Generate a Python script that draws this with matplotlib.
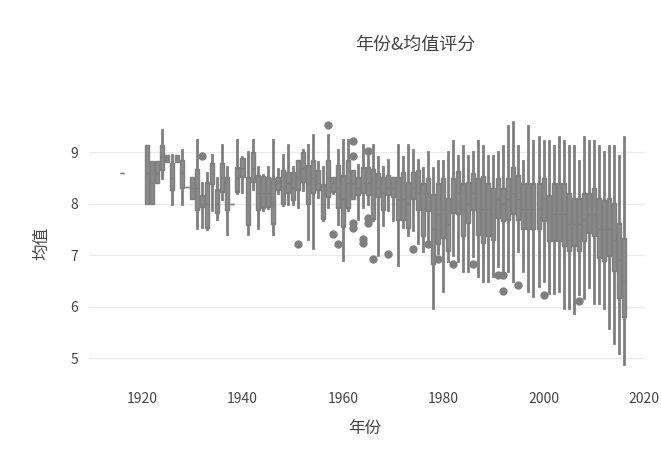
import matplotlib
matplotlib.use("Agg")
import matplotlib.pyplot as plt

plt.rcParams['font.family'] = ['Noto Sans CJK SC', 'DejaVu Sans']

# ── Données ─────────────────────────────────────────────────────────────────
years = [1916] + list(range(1921, 2017))

lo = [8.6,
      8.0, 8.0, 8.4, 8.49, 8.81, 8.0, 8.81, 8.0, 8.33, 8.1,
      7.52, 7.55, 7.5, 7.87, 7.7, 8.1, 7.42, 8.0, 8.2, 8.23,
      7.42, 8.29, 7.52, 7.87, 7.91, 7.42, 8.2, 7.97, 8.0, 8.0,
      7.94, 8.26, 7.32, 7.13, 8.13, 7.68, 7.94, 8.2, 7.61, 6.9,
      7.87, 8.1, 7.71, 7.94, 8.0, 7.68, 7.0, 7.58, 7.87, 7.68,
      6.81, 7.55, 7.4, 7.49, 7.23, 7.08, 7.3, 5.98, 7.05, 6.3,
      6.88, 7.01, 6.88, 6.69, 6.69, 6.98, 6.59, 6.5, 6.5, 6.59,
      6.79, 6.72, 6.69, 6.5, 7.08, 6.69, 6.3, 6.21, 6.4, 6.5,
      6.27, 6.27, 6.3, 5.98, 5.98, 5.88, 6.25, 6.17, 6.39, 6.08,
      6.08, 5.98, 5.59, 5.3, 5.11, 4.88]

q1 = [8.6,
      8.0, 8.0, 8.4, 8.65, 8.81, 8.26, 8.81, 8.3, 8.33, 8.1,
      7.87, 7.94, 7.52, 8.39, 7.81, 8.23, 7.87, 8.0, 8.23, 8.52,
      7.58, 8.42, 7.87, 7.91, 7.94, 7.61, 8.26, 8.0, 8.2, 8.07,
      8.26, 8.42, 8.0, 8.2, 8.26, 7.71, 8.13, 8.23, 7.91, 7.55,
      7.91, 8.1, 8.17, 8.2, 8.17, 7.71, 8.13, 7.87, 8.17, 8.13,
      7.68, 7.68, 7.52, 8.1, 7.87, 7.37, 7.85, 6.82, 7.21, 7.34,
      7.08, 7.82, 7.79, 7.37, 7.63, 7.88, 7.4, 7.24, 7.37, 7.3,
      7.72, 7.66, 7.69, 7.79, 7.69, 7.5, 7.5, 7.5, 7.5, 7.66,
      7.27, 7.27, 7.27, 7.17, 7.08, 7.17, 7.08, 7.27, 7.43, 7.37,
      6.95, 6.88, 6.98, 6.69, 6.17, 5.79]

med = [8.6,
       8.6, 8.4, 8.6, 8.9, 8.9, 8.5, 8.9, 8.6, 8.33, 8.3,
       8.3, 8.0, 8.0, 8.6, 8.0, 8.5, 8.2, 8.0, 8.5, 8.7,
       8.0, 8.7, 8.2, 8.2, 8.2, 8.0, 8.4, 8.3, 8.4, 8.3,
       8.5, 8.7, 8.4, 8.5, 8.4, 8.0, 8.5, 8.4, 8.3, 8.1,
       8.4, 8.4, 8.3, 8.4, 8.4, 8.2, 8.3, 8.2, 8.3, 8.3,
       8.1, 8.1, 8.0, 8.3, 8.2, 7.9, 8.2, 7.5, 7.8, 7.9,
       7.6, 8.1, 8.2, 7.9, 8.0, 8.2, 7.9, 7.9, 7.9, 7.8,
       8.1, 8.0, 8.1, 8.2, 8.1, 7.9, 7.9, 7.9, 7.9, 8.1,
       7.7, 7.8, 7.8, 7.8, 7.6, 7.6, 7.6, 7.7, 7.8, 7.8,
       7.5, 7.5, 7.5, 7.3, 6.9, 6.5]

q3 = [8.6,
      9.13, 8.83, 8.83, 9.14, 8.94, 8.78, 8.94, 8.85, 8.33, 8.52,
      8.68, 8.17, 8.42, 8.78, 8.29, 8.78, 8.52, 8.0, 8.72, 8.88,
      8.52, 9.01, 8.55, 8.53, 8.52, 8.49, 8.52, 8.65, 8.62, 8.62,
      8.84, 9.01, 8.75, 8.84, 8.65, 8.39, 8.84, 8.52, 8.75, 8.55,
      8.84, 8.65, 8.52, 8.72, 8.72, 8.68, 8.59, 8.52, 8.55, 8.52,
      8.52, 8.62, 8.42, 8.62, 8.65, 8.4, 8.5, 8.19, 8.4, 8.5,
      8.11, 8.5, 8.63, 8.4, 8.43, 8.59, 8.5, 8.53, 8.4, 8.3,
      8.5, 8.3, 8.5, 8.72, 8.56, 8.4, 8.4, 8.4, 8.4, 8.5,
      8.17, 8.4, 8.4, 8.4, 8.21, 8.11, 8.11, 8.21, 8.21, 8.3,
      8.11, 8.08, 8.11, 8.01, 7.63, 7.34]

hi = [8.6,
      9.13, 8.83, 8.83, 9.43, 8.94, 8.94, 8.94, 9.04, 8.33, 8.52,
      9.23, 8.4, 8.6, 8.94, 8.5, 9.14, 8.72, 8.0, 9.23, 8.91,
      9.0, 9.23, 8.72, 8.55, 8.72, 9.23, 8.68, 8.94, 9.14, 8.72,
      8.84, 9.04, 9.14, 9.33, 8.81, 8.72, 9.33, 8.52, 9.04, 9.23,
      9.23, 8.65, 8.75, 9.14, 8.94, 9.14, 8.91, 8.72, 8.84, 8.52,
      9.14, 8.91, 9.14, 9.04, 8.84, 8.69, 9.01, 8.69, 8.82, 8.82,
      9.01, 9.21, 8.92, 9.11, 8.92, 9.01, 9.21, 9.11, 8.92, 8.92,
      9.01, 9.11, 9.5, 9.59, 9.11, 8.82, 9.5, 9.21, 9.3, 9.21,
      9.21, 9.11, 9.3, 9.21, 9.11, 9.11, 8.82, 9.3, 9.21, 9.21,
      9.11, 9.01, 9.11, 9.11, 8.92, 9.3]

outlier_years = [1932, 1951, 1957, 1958, 1959, 1962, 1962, 1962, 1962,
                 1964, 1964, 1965, 1965, 1965, 1966, 1969, 1974, 1977,
                 1979, 1982, 1986, 1991, 1992, 1992, 1995, 2000, 2007]
outlier_vals = [8.92, 7.21, 9.52, 7.42, 7.21, 9.22, 8.92, 7.62, 7.52,
                7.32, 7.23, 9.03, 7.73, 7.63, 6.92, 7.02, 7.12, 7.21,
                6.92, 6.82, 6.82, 6.62, 6.62, 6.31, 6.42, 6.22, 6.11]

# ── Statistiques pour bxp ───────────────────────────────────────────────────
stats = []
for i, yr in enumerate(years):
    fl = [v for oy, v in zip(outlier_years, outlier_vals) if oy == yr]
    stats.append(dict(whislo=lo[i], q1=q1[i], med=med[i], q3=q3[i],
                      whishi=hi[i], fliers=fl))

gris = '#7f7f7f'

fig = plt.figure(figsize=(6.61, 4.51), dpi=100)
ax = fig.add_axes([0.1346, 0.175, 0.841, 0.563])

ax.bxp(stats, positions=years, widths=0.8, patch_artist=True,
       showcaps=False, manage_ticks=False,
       boxprops=dict(facecolor='#8a8a8a', edgecolor=gris, linewidth=1),
       whiskerprops=dict(color=gris, linewidth=2),
       medianprops=dict(color=gris, linewidth=1),
       flierprops=dict(marker='o', markerfacecolor=gris, markeredgecolor=gris,
                       markersize=5))

ax.set_xlim(1909.4, 2020.2)
ax.set_ylim(4.73, 9.66)
ax.set_xticks([1920, 1940, 1960, 1980, 2000, 2020])
ax.set_yticks([5, 6, 7, 8, 9])
ax.grid(True, axis='y', color='#ebebeb', linewidth=1)
ax.set_axisbelow(True)
for s in ax.spines.values():
    s.set_visible(False)
ax.tick_params(length=0, labelsize=10, colors='#444444', pad=8)
ax.tick_params(axis='x', pad=14)

fig.text(415 / 661, 1 - 45 / 451, '年份&均值评分', ha='center', va='center',
         fontsize=13, color='#444444')
fig.text(365 / 661, 1 - 428 / 451, '年份', ha='center', va='center',
         fontsize=12, color='#444444')
fig.text(42 / 661, 1 - 243 / 451, '均值', ha='center', va='center',
         fontsize=12, color='#444444', rotation=90)

plt.savefig('out.png', dpi=100)
